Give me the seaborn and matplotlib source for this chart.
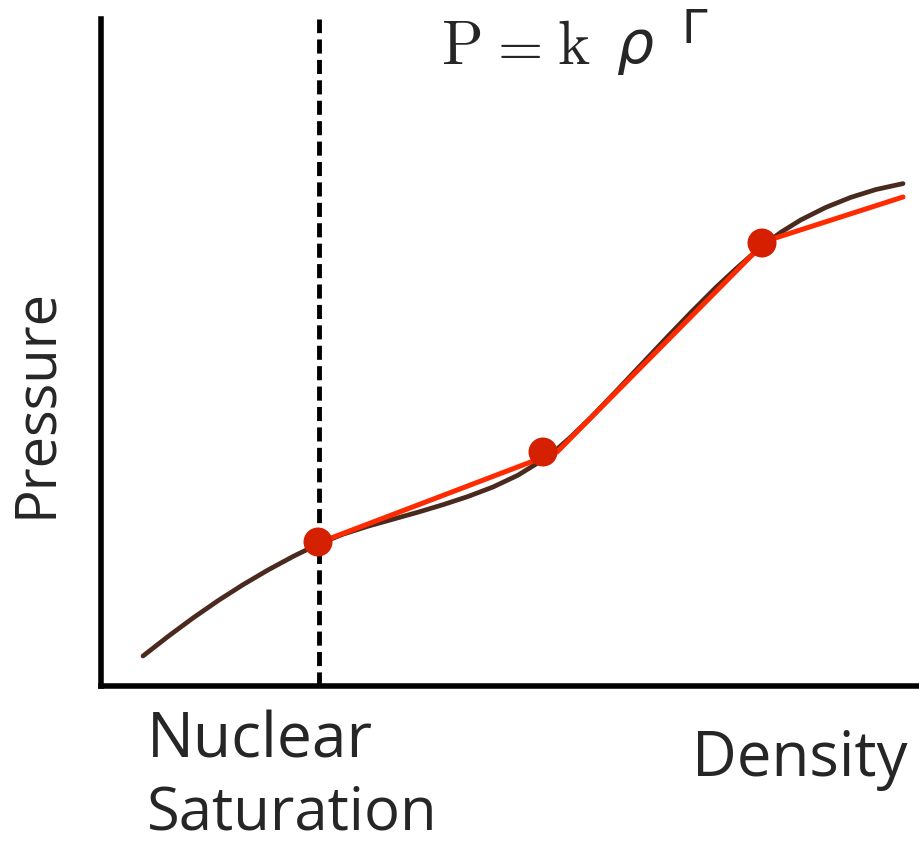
import matplotlib
matplotlib.use("Agg")
import matplotlib.pyplot as plt
import pandas as pd
import seaborn as sns

# Schematic equation of state (arbitrary units)
eos_density = [42, 67, 92, 117, 142, 167, 192, 217, 242, 267, 292, 317, 342, 367,
               392, 417, 442, 455, 470, 490, 515, 540, 565, 590, 615, 635, 650,
               665, 680, 700, 725, 750, 775, 802]
eos_pressure = [30, 49.5, 68, 85.3, 101.3, 116, 129.5, 141.8, 151.8, 159.8, 166.8,
                173.8, 181.3, 189.5, 199, 210.8, 226.3, 236, 249.2, 268.6, 294.6,
                321.1, 347.6, 373.6, 398.6, 417.2, 430.4, 442.7, 453.8, 466.2,
                478.7, 488.7, 496.5, 502.4]

# Piecewise polytrope approximation
poly_density = [217, 456, 665, 802]
poly_pressure = [143, 234, 445, 489]

# Dividing densities between polytropic pieces
knot_density = [217, 442, 661]
knot_pressure = [144, 234, 443]

saturation_density = 218

eos = pd.DataFrame({"density": eos_density, "pressure": eos_pressure})
poly = pd.DataFrame({"density": poly_density, "pressure": poly_pressure})
knots = pd.DataFrame({"density": knot_density, "pressure": knot_pressure})

sns.set_style("white")
plt.rcParams["font.family"] = ["Open Sans", "DejaVu Sans"]
plt.rcParams["mathtext.fontset"] = "cm"

W, H = 919, 842
fig = plt.figure(figsize=(W / 100, H / 100), dpi=100)
ax = fig.add_axes([101 / W, (H - 686) / H, (W - 101) / W, 667 / H])

sns.lineplot(data=eos, x="density", y="pressure", sort=False, estimator=None,
             color="#4A2A1F", linewidth=3.4, ax=ax, zorder=2)
ax.axvline(saturation_density, color="black", linewidth=3.5,
           dashes=(2.9, 1.3), zorder=3)
sns.lineplot(data=poly, x="density", y="pressure", sort=False, estimator=None,
             color="#FF2A00", linewidth=3.6, ax=ax, zorder=4)
sns.scatterplot(data=knots, x="density", y="pressure", s=436, color="#D42000",
                edgecolor="none", linewidth=0, ax=ax, zorder=5)

ax.set_xlim(0, W - 101)
ax.set_ylim(0, 667)
ax.set_xticks([])
ax.set_yticks([])
ax.set_xlabel("")
ax.set_ylabel("")
for side in ("top", "right"):
    ax.spines[side].set_visible(False)
for side in ("left", "bottom"):
    ax.spines[side].set_linewidth(4.0)
    ax.spines[side].set_color("black")


def fx(px):
    return px / W


def fy(py):
    return 1 - py / H


renderer = fig.canvas.get_renderer()


def fit_length(text, length_px, vertical=False):
    """Scale a text's font size so it spans the given number of pixels."""
    box = text.get_window_extent(renderer)
    span = box.height if vertical else box.width
    text.set_fontsize(text.get_fontsize() * length_px / span)


t = fig.text(fx(51), fy(403), "Pressure", rotation=90, fontsize=36,
             ha="center", va="baseline", rotation_mode="anchor")
fit_length(t, 230, vertical=True)
t = fig.text(fx(147), fy(757), "Nuclear", fontsize=43, ha="left", va="baseline")
fit_length(t, 226)
t = fig.text(fx(147), fy(829), "Saturation", fontsize=43, ha="left", va="baseline")
fit_length(t, 291)
t = fig.text(fx(908), fy(776), "Density", fontsize=43, ha="right", va="baseline")
fit_length(t, 216)

# Polytrope law: P = k rho^Gamma
fig.text(fx(461), fy(64), r"$\mathrm{P}$", fontsize=44, ha="center", va="baseline")
fig.text(fx(514), fy(64), r"$=$", fontsize=42, ha="center", va="baseline")
fig.text(fx(574), fy(64), r"$\mathrm{k}$", fontsize=44, ha="center", va="baseline")
fig.text(fx(616), fy(63), "ρ", fontsize=42, style="italic",
         family="DejaVu Sans", ha="left", va="baseline")
fig.text(fx(681), fy(43), "Γ", fontsize=33, family="DejaVu Sans",
         ha="left", va="baseline")

fig.savefig("out.png", dpi=100)
